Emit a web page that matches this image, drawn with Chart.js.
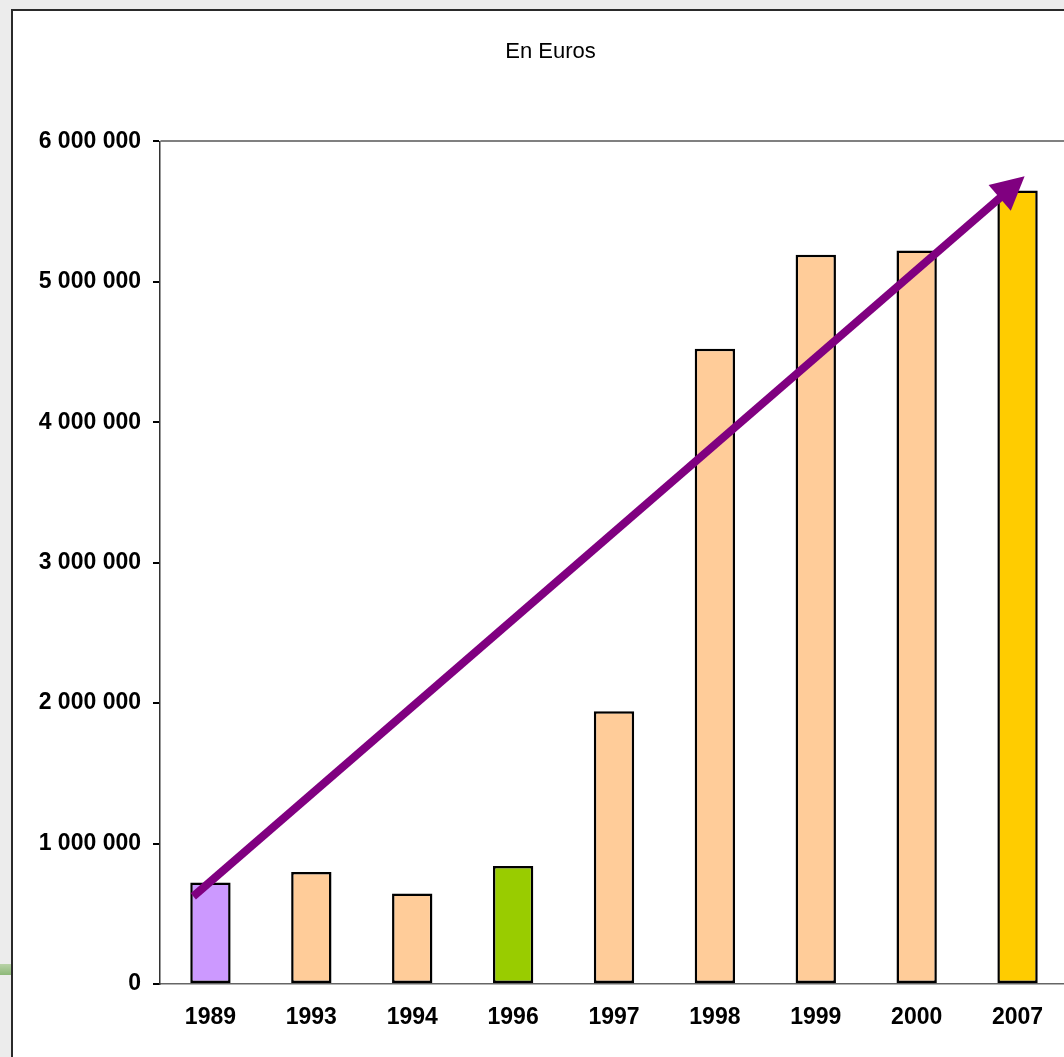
<!DOCTYPE html>
<html>
<head>
<meta charset="utf-8">
<script src="https://cdn.jsdelivr.net/npm/chart.js@4/dist/chart.umd.min.js"></script>
<style>
  html, body { margin: 0; padding: 0; overflow: hidden; }
  body { width: 1064px; height: 1057px; background: #ececec; position: relative; }
  .smear { position: absolute; left: 0; top: 964px; width: 12px; height: 11px;
           background: linear-gradient(#b9d3a8, #8db878); }
  .box { position: absolute; left: 11px; top: 9px; width: 1074px; height: 1100px;
         background: #fff; border: 2px solid #2a2a2a; }
  canvas { display: block; }
</style>
</head>
<body>
<div class="smear"></div>
<div class="box"><canvas id="euroChart" width="1074" height="1046"></canvas></div>
<script>
// Chart data
const years = ['1989', '1993', '1994', '1996', '1997', '1998', '1999', '2000', '2007'];
const amounts = [722000, 797000, 644000, 840000, 1942000, 4524000, 5193000, 5224000, 5651000];
const barColors = ['#CC99FF', '#FFCC99', '#FFCC99', '#99CC00', '#FFCC99', '#FFCC99', '#FFCC99', '#FFCC99', '#FFCC00'];
const yTicks = [0, 1000000, 2000000, 3000000, 4000000, 5000000, 6000000];

// Trend arrow, given in axis units (category index, euros)
const arrowFrom = { x: -0.17, y: 624000 };
const arrowTo = { x: 8.07, y: 5751000 };

// Format numbers with space as thousands separator
function spaced(v) {
  return String(v).replace(/\B(?=(\d{3})+(?!\d))/g, ' ');
}

const arrowPlugin = {
  id: 'trendArrow',
  afterDatasetsDraw(chart) {
    const xs = chart.scales.x, ys = chart.scales.y;
    const x1 = xs.getPixelForValue(arrowFrom.x), y1 = ys.getPixelForValue(arrowFrom.y);
    const x2 = xs.getPixelForValue(arrowTo.x), y2 = ys.getPixelForValue(arrowTo.y);
    const ang = Math.atan2(y2 - y1, x2 - x1);
    const headLen = 33, headHalf = 17;
    const bx = x2 - headLen * Math.cos(ang), by = y2 - headLen * Math.sin(ang);
    const ctx = chart.ctx;
    ctx.save();
    ctx.strokeStyle = '#800080';
    ctx.fillStyle = '#800080';
    ctx.lineWidth = 8;
    ctx.beginPath();
    ctx.moveTo(x1, y1);
    ctx.lineTo(bx + 2 * Math.cos(ang), by + 2 * Math.sin(ang));
    ctx.stroke();
    ctx.beginPath();
    ctx.moveTo(x2, y2);
    ctx.lineTo(bx + headHalf * Math.sin(ang), by - headHalf * Math.cos(ang));
    ctx.lineTo(bx - headHalf * Math.sin(ang), by + headHalf * Math.cos(ang));
    ctx.closePath();
    ctx.fill();
    ctx.restore();
  }
};

new Chart(document.getElementById('euroChart'), {
  type: 'bar',
  data: {
    labels: years,
    datasets: [{
      data: amounts,
      backgroundColor: barColors,
      borderColor: '#000',
      borderWidth: 2.5,
      borderSkipped: false,
      categoryPercentage: 1,
      barPercentage: 0.4
    }]
  },
  options: {
    responsive: false,
    animation: false,
    devicePixelRatio: 1,
    layout: { padding: { left: 20, right: 19, top: 0, bottom: 0 } },
    plugins: {
      legend: { display: false },
      tooltip: { enabled: false },
      title: {
        display: true,
        text: 'En Euros',
        color: '#000',
        font: { family: 'Liberation Sans, Arial, sans-serif', size: 22, weight: 'normal' },
        padding: { top: 28, bottom: 76 }
      }
    },
    scales: {
      x: {
        afterFit: (scale) => { scale.height = 73; },
        grid: { display: false, drawTicks: false },
        border: { color: '#666', width: 1.5 },
        ticks: {
          color: '#000',
          padding: 20,
          font: { family: 'Liberation Sans, Arial, sans-serif', size: 23, weight: 'bold' }
        }
      },
      y: {
        min: 0,
        max: 6000000,
        afterFit: (scale) => { scale.width = 127; },
        afterBuildTicks: (scale) => { scale.ticks = yTicks.map(v => ({ value: v })); },
        border: { color: '#333', width: 1.5 },
        grid: {
          drawOnChartArea: true,
          tickLength: 7,
          tickColor: '#000',
          color: (c) => c.tick && c.tick.value === 6000000 ? '#808080' : 'rgba(0,0,0,0)',
          lineWidth: 2
        },
        ticks: {
          color: '#000',
          padding: 12,
          callback: (v) => spaced(v),
          font: { family: 'Liberation Sans, Arial, sans-serif', size: 23, weight: 'bold' }
        }
      }
    }
  },
  plugins: [arrowPlugin]
});
</script>
</body>
</html>
